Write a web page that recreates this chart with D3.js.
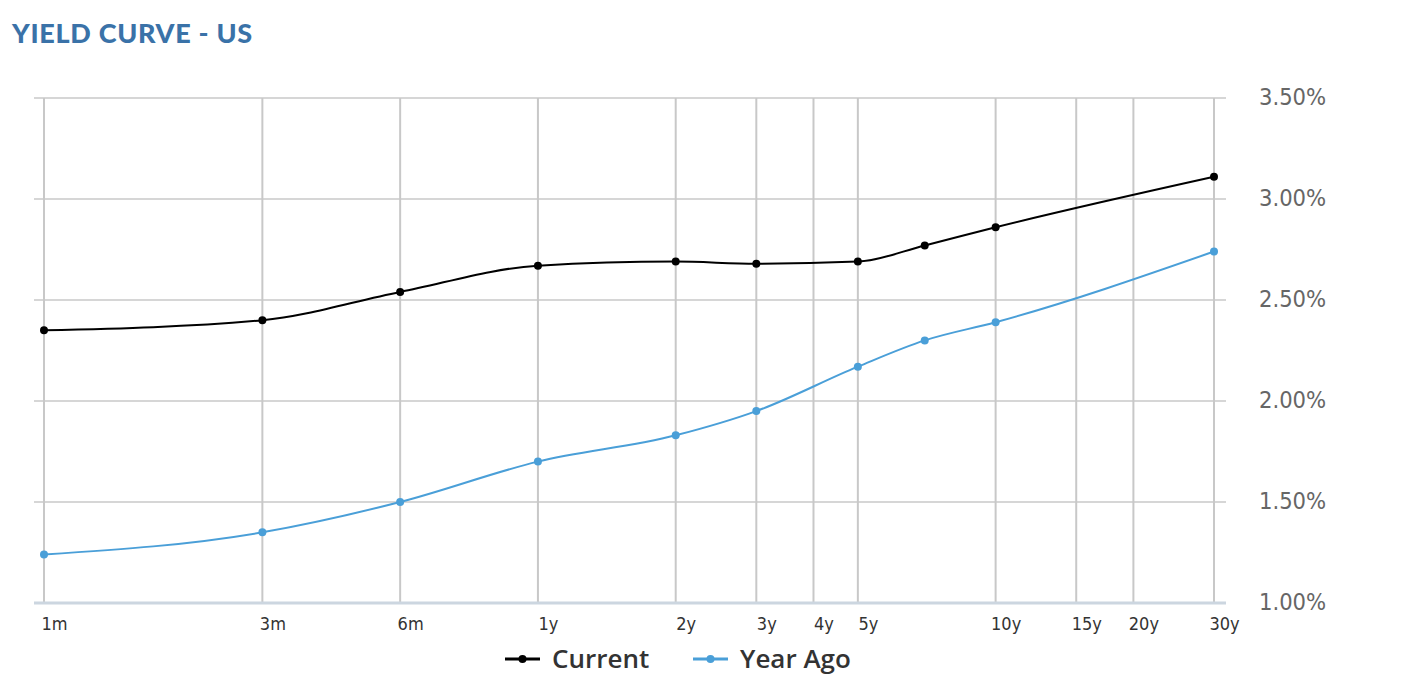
<!DOCTYPE html>
<html>
<head>
<meta charset="utf-8">
<script src="https://cdn.jsdelivr.net/npm/d3@7"></script>
<style>
  html, body { margin: 0; padding: 0; background: #fff; }
  svg { display: block; }
  .cond { font-family: 'DejaVu Sans Condensed', 'DejaVu Sans', sans-serif; font-stretch: condensed; }
</style>
</head>
<body>
<svg id="chart" width="1412" height="692"></svg>
<script>
const tickLabels = ["1m","3m","6m","1y","2y","3y","4y","5y","10y","15y","20y","30y"];
const tickMonths = [1,3,6,12,24,36,48,60,120,180,240,360];
const pointMonths = [1,3,6,12,24,36,60,84,120,360];
const currentYield = [2.35,2.40,2.54,2.67,2.69,2.68,2.69,2.77,2.86,3.11];
const yearAgoYield = [1.24,1.35,1.50,1.70,1.83,1.95,2.17,2.30,2.39,2.74];
const yTicks = [1.0,1.5,2.0,2.5,3.0,3.5];
const seriesNames = ["Current","Year Ago"];
const seriesColors = ["#000000","#4a9fd8"];

const svg = d3.select("#chart");
const plotLeft = 34, plotRight = 1226, plotTop = 98, plotBottom = 603;

const x = d3.scaleLog().domain([1,360]).range([44,1214]);
const y = d3.scaleLinear().domain([1,3.5]).range([plotBottom, plotTop]);

// Title
svg.append("text")
  .attr("x", 12).attr("y", 43)
  .attr("font-family", "Lato, 'Open Sans', sans-serif")
  .attr("font-weight", 900)
  .attr("font-size", 27)
  .attr("fill", "#3a72a8")
  .attr("letter-spacing", 0.7)
  .text("YIELD CURVE - US");

// Horizontal grid
svg.append("g").selectAll("line").data(yTicks.slice(1)).join("line")
  .attr("x1", plotLeft).attr("x2", plotRight)
  .attr("y1", d => y(d)).attr("y2", d => y(d))
  .attr("stroke", "#d6d6d6").attr("stroke-width", 2);

// Vertical grid
svg.append("g").selectAll("line").data(tickMonths).join("line")
  .attr("x1", d => x(d)).attr("x2", d => x(d))
  .attr("y1", plotTop).attr("y2", plotBottom)
  .attr("stroke", "#c8c8c8").attr("stroke-width", 2);

// X axis line
svg.append("line")
  .attr("x1", plotLeft).attr("x2", plotRight)
  .attr("y1", plotBottom).attr("y2", plotBottom)
  .attr("stroke", "#ccd6e0").attr("stroke-width", 3);

// X axis labels
const xAxis = d3.axisBottom(x).tickValues(tickMonths)
  .tickFormat((d,i) => tickLabels[i]).tickSize(0).tickPadding(0);
const gx = svg.append("g").attr("transform", `translate(0,${plotBottom})`).call(xAxis);
gx.select(".domain").remove();
gx.selectAll("text")
  .attr("class", "cond")
  .attr("dx", 10).attr("dy", 0).attr("y", 27)
  .attr("font-size", 18)
  .attr("fill", "#333");

// Y axis labels
const yAxis = d3.axisRight(y).tickValues(yTicks)
  .tickFormat(d => d3.format(".2f")(d) + "%").tickSize(0).tickPadding(0);
const gy = svg.append("g").attr("transform", `translate(1259,0)`).call(yAxis);
gy.select(".domain").remove();
gy.selectAll("text")
  .attr("class", "cond")
  .attr("x", 0).attr("dy", "0.36em").attr("y", -2)
  .attr("font-size", 23.5)
  .attr("fill", "#666");

// Lines
const line = d3.line().x(d => x(d[0])).y(d => y(d[1])).curve(d3.curveMonotoneX);
[currentYield, yearAgoYield].forEach((vals, si) => {
  const pts = pointMonths.map((m, i) => [m, vals[i]]);
  svg.append("path").datum(pts)
    .attr("d", line).attr("fill", "none")
    .attr("stroke", seriesColors[si]).attr("stroke-width", 2);
  svg.append("g").selectAll("circle").data(pts).join("circle")
    .attr("cx", d => x(d[0])).attr("cy", d => y(d[1])).attr("r", 4)
    .attr("fill", seriesColors[si]);
});

// Legend
const legendItems = [{x: 505}, {x: 693}];
legendItems.forEach((it, i) => {
  const g = svg.append("g").attr("transform", `translate(${it.x},659)`);
  g.append("line").attr("x1", 0).attr("x2", 35).attr("y1", 0).attr("y2", 0)
    .attr("stroke", seriesColors[i]).attr("stroke-width", 3);
  g.append("circle").attr("cx", 17.5).attr("cy", 0).attr("r", 4).attr("fill", seriesColors[i]);
  g.append("text").attr("x", 47).attr("y", 8.5)
    .attr("font-family", "'Open Sans', sans-serif")
    .attr("font-weight", 600)
    .attr("font-size", 26)
    .attr("fill", "#333")
    .text(seriesNames[i]);
});
</script>
</body>
</html>
